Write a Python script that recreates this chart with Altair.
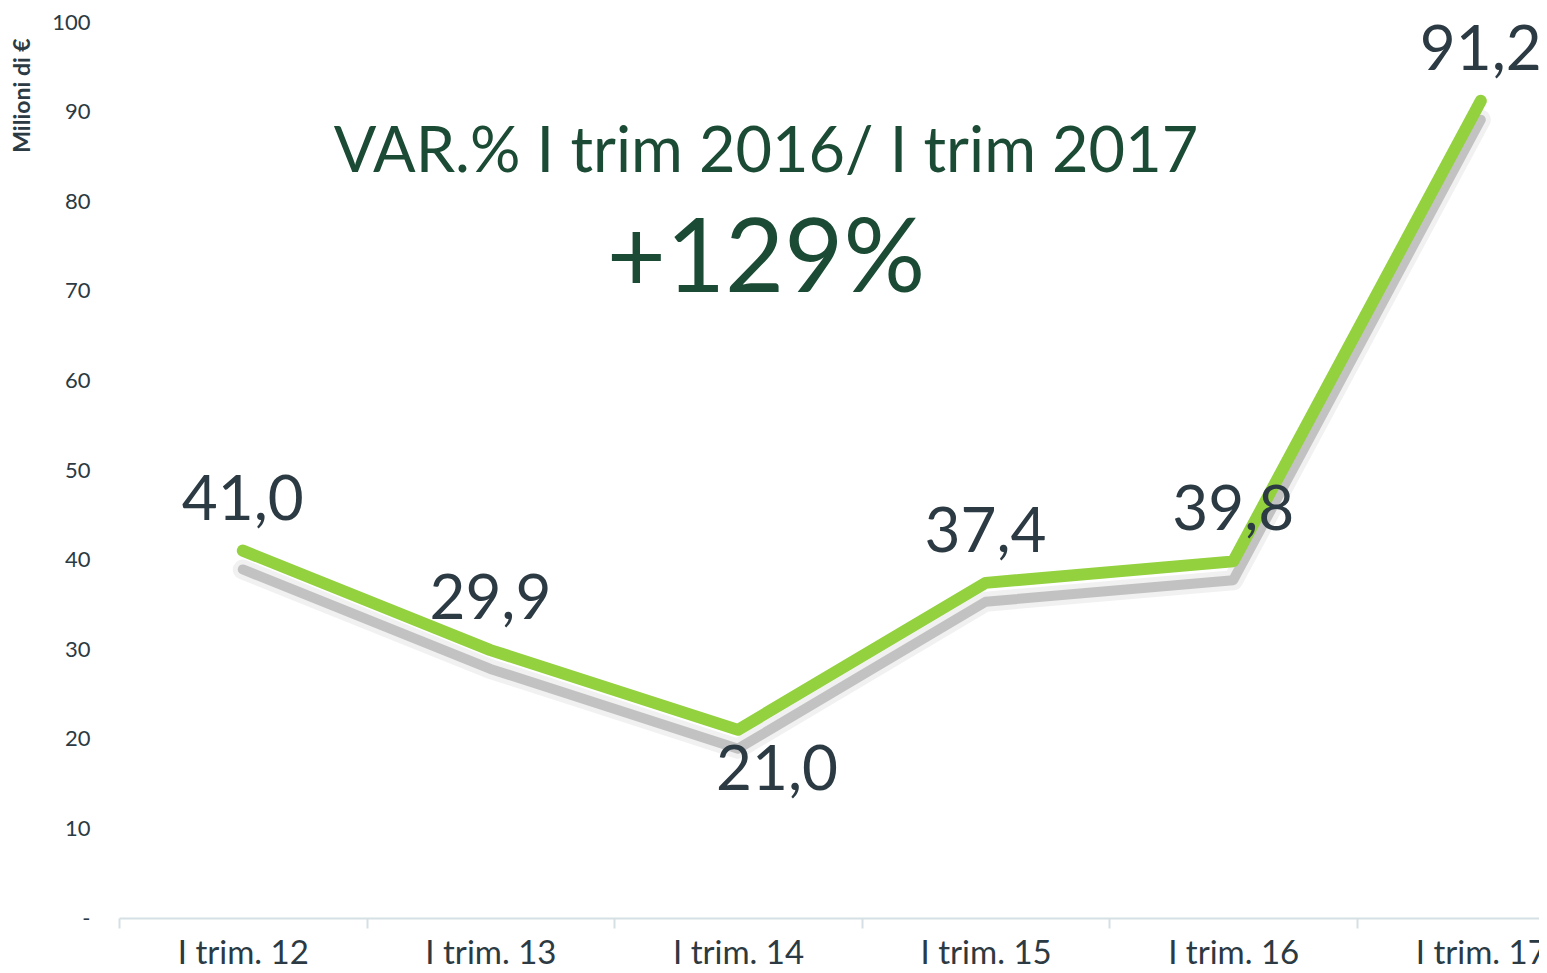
import altair as alt
import pandas as pd

quarters = ["I trim. 12", "I trim. 13", "I trim. 14", "I trim. 15", "I trim. 16", "I trim. 17"]
values = [41.0, 29.9, 21.0, 37.4, 39.8, 91.2]
labels = ["41,0", "29,9", "21,0", "37,4", "39,8", "91,2"]
label_pos = ["above", "above", "below", "above", "above", "above"]
y_ticks = [0, 10, 20, 30, 40, 50, 60, 70, 80, 90, 100]

df = pd.DataFrame({"quarter": quarters, "value": values, "label": labels, "pos": label_pos})

GREEN = "#93D13F"
TEXT = "#2C3A43"
TITLE_GREEN = "#1B4B35"
AXIS_LIGHT = "#D5E0E4"

x_enc = alt.X(
    "quarter:N",
    sort=quarters,
    scale=alt.Scale(type="band", paddingInner=0, paddingOuter=0, range=[0, 1485.6]),
    axis=alt.Axis(
        title=None,
        domainColor=AXIS_LIGHT,
        domainWidth=2,
        tickColor=AXIS_LIGHT,
        tickWidth=2,
        tickSize=10,
        tickBand="extent",
        labelAngle=0,
        labelFont="Lato",
        labelFontSize=33,
        labelColor=TEXT,
        labelPadding=9,
        labelBaseline="top",
        grid=False,
    ),
)

y_scale = alt.Scale(domain=[0, 100], nice=False, zero=True)

y_enc = alt.Y(
    "value:Q",
    scale=y_scale,
    axis=alt.Axis(
        values=y_ticks,
        title="Milioni di €",
        titleFont="Lato",
        titleFontSize=23,
        titleFontWeight="bold",
        titleColor=TEXT,
        titleAngle=-90,
        titleX=-97,
        titleY=73,
        titleAlign="center",
        titleBaseline="middle",
        domain=False,
        ticks=False,
        grid=False,
        labelFont="Lato",
        labelFontSize=22,
        labelColor=TEXT,
        labelPadding=29,
        labelExpr="datum.value == 0 ? '-' : datum.label",
    ),
)

base = alt.Chart(df)

shadow_outer = base.transform_calculate(sy="datum.value - 2.1").mark_line(
    color="#8a8a8a", strokeWidth=20, opacity=0.12, strokeCap="round", strokeJoin="round"
).encode(x=x_enc, y=alt.Y("sy:Q", scale=y_scale))

shadow_inner = base.transform_calculate(sy="datum.value - 2.1").mark_line(
    color="#8a8a8a", strokeWidth=10, opacity=0.45, strokeCap="round", strokeJoin="round"
).encode(x=x_enc, y=alt.Y("sy:Q", scale=y_scale))

line = base.mark_line(
    color=GREEN, strokeWidth=12, strokeCap="round", strokeJoin="round"
).encode(x=x_enc, y=y_enc)

text_above = base.transform_filter("datum.pos == 'above'").mark_text(
    font="Lato", fontSize=62, color=TEXT, baseline="alphabetic", dy=-31
).encode(x=x_enc, y=alt.Y("value:Q", scale=y_scale), text="label:N")

text_below = base.transform_filter("datum.pos == 'below'").mark_text(
    font="Lato", fontSize=62, color=TEXT, baseline="alphabetic", dy=60, dx=39
).encode(x=x_enc, y=alt.Y("value:Q", scale=y_scale), text="label:N")

chart = alt.layer(shadow_outer, shadow_inner, line, text_above, text_below).properties(
    width=1420,
    height=896,
    padding={"left": 111, "top": 14, "right": 0, "bottom": 47},
    autosize=alt.AutoSizeParams(type="none"),
    background="white",
    title=alt.TitleParams(
        text="VAR.% I trim 2016/ I trim 2017",
        subtitle="+129%",
        font="Lato",
        fontSize=63,
        fontWeight="normal",
        color=TITLE_GREEN,
        subtitleFont="Lato",
        subtitleFontSize=102,
        subtitleFontWeight="normal",
        subtitleColor=TITLE_GREEN,
        subtitlePadding=26,
        anchor="middle",
        frame="group",
        dx=-63,
        dy=305,
    ),
).configure_view(stroke=None)

chart.save("out.html", embed_options={"renderer": "svg", "actions": False})
